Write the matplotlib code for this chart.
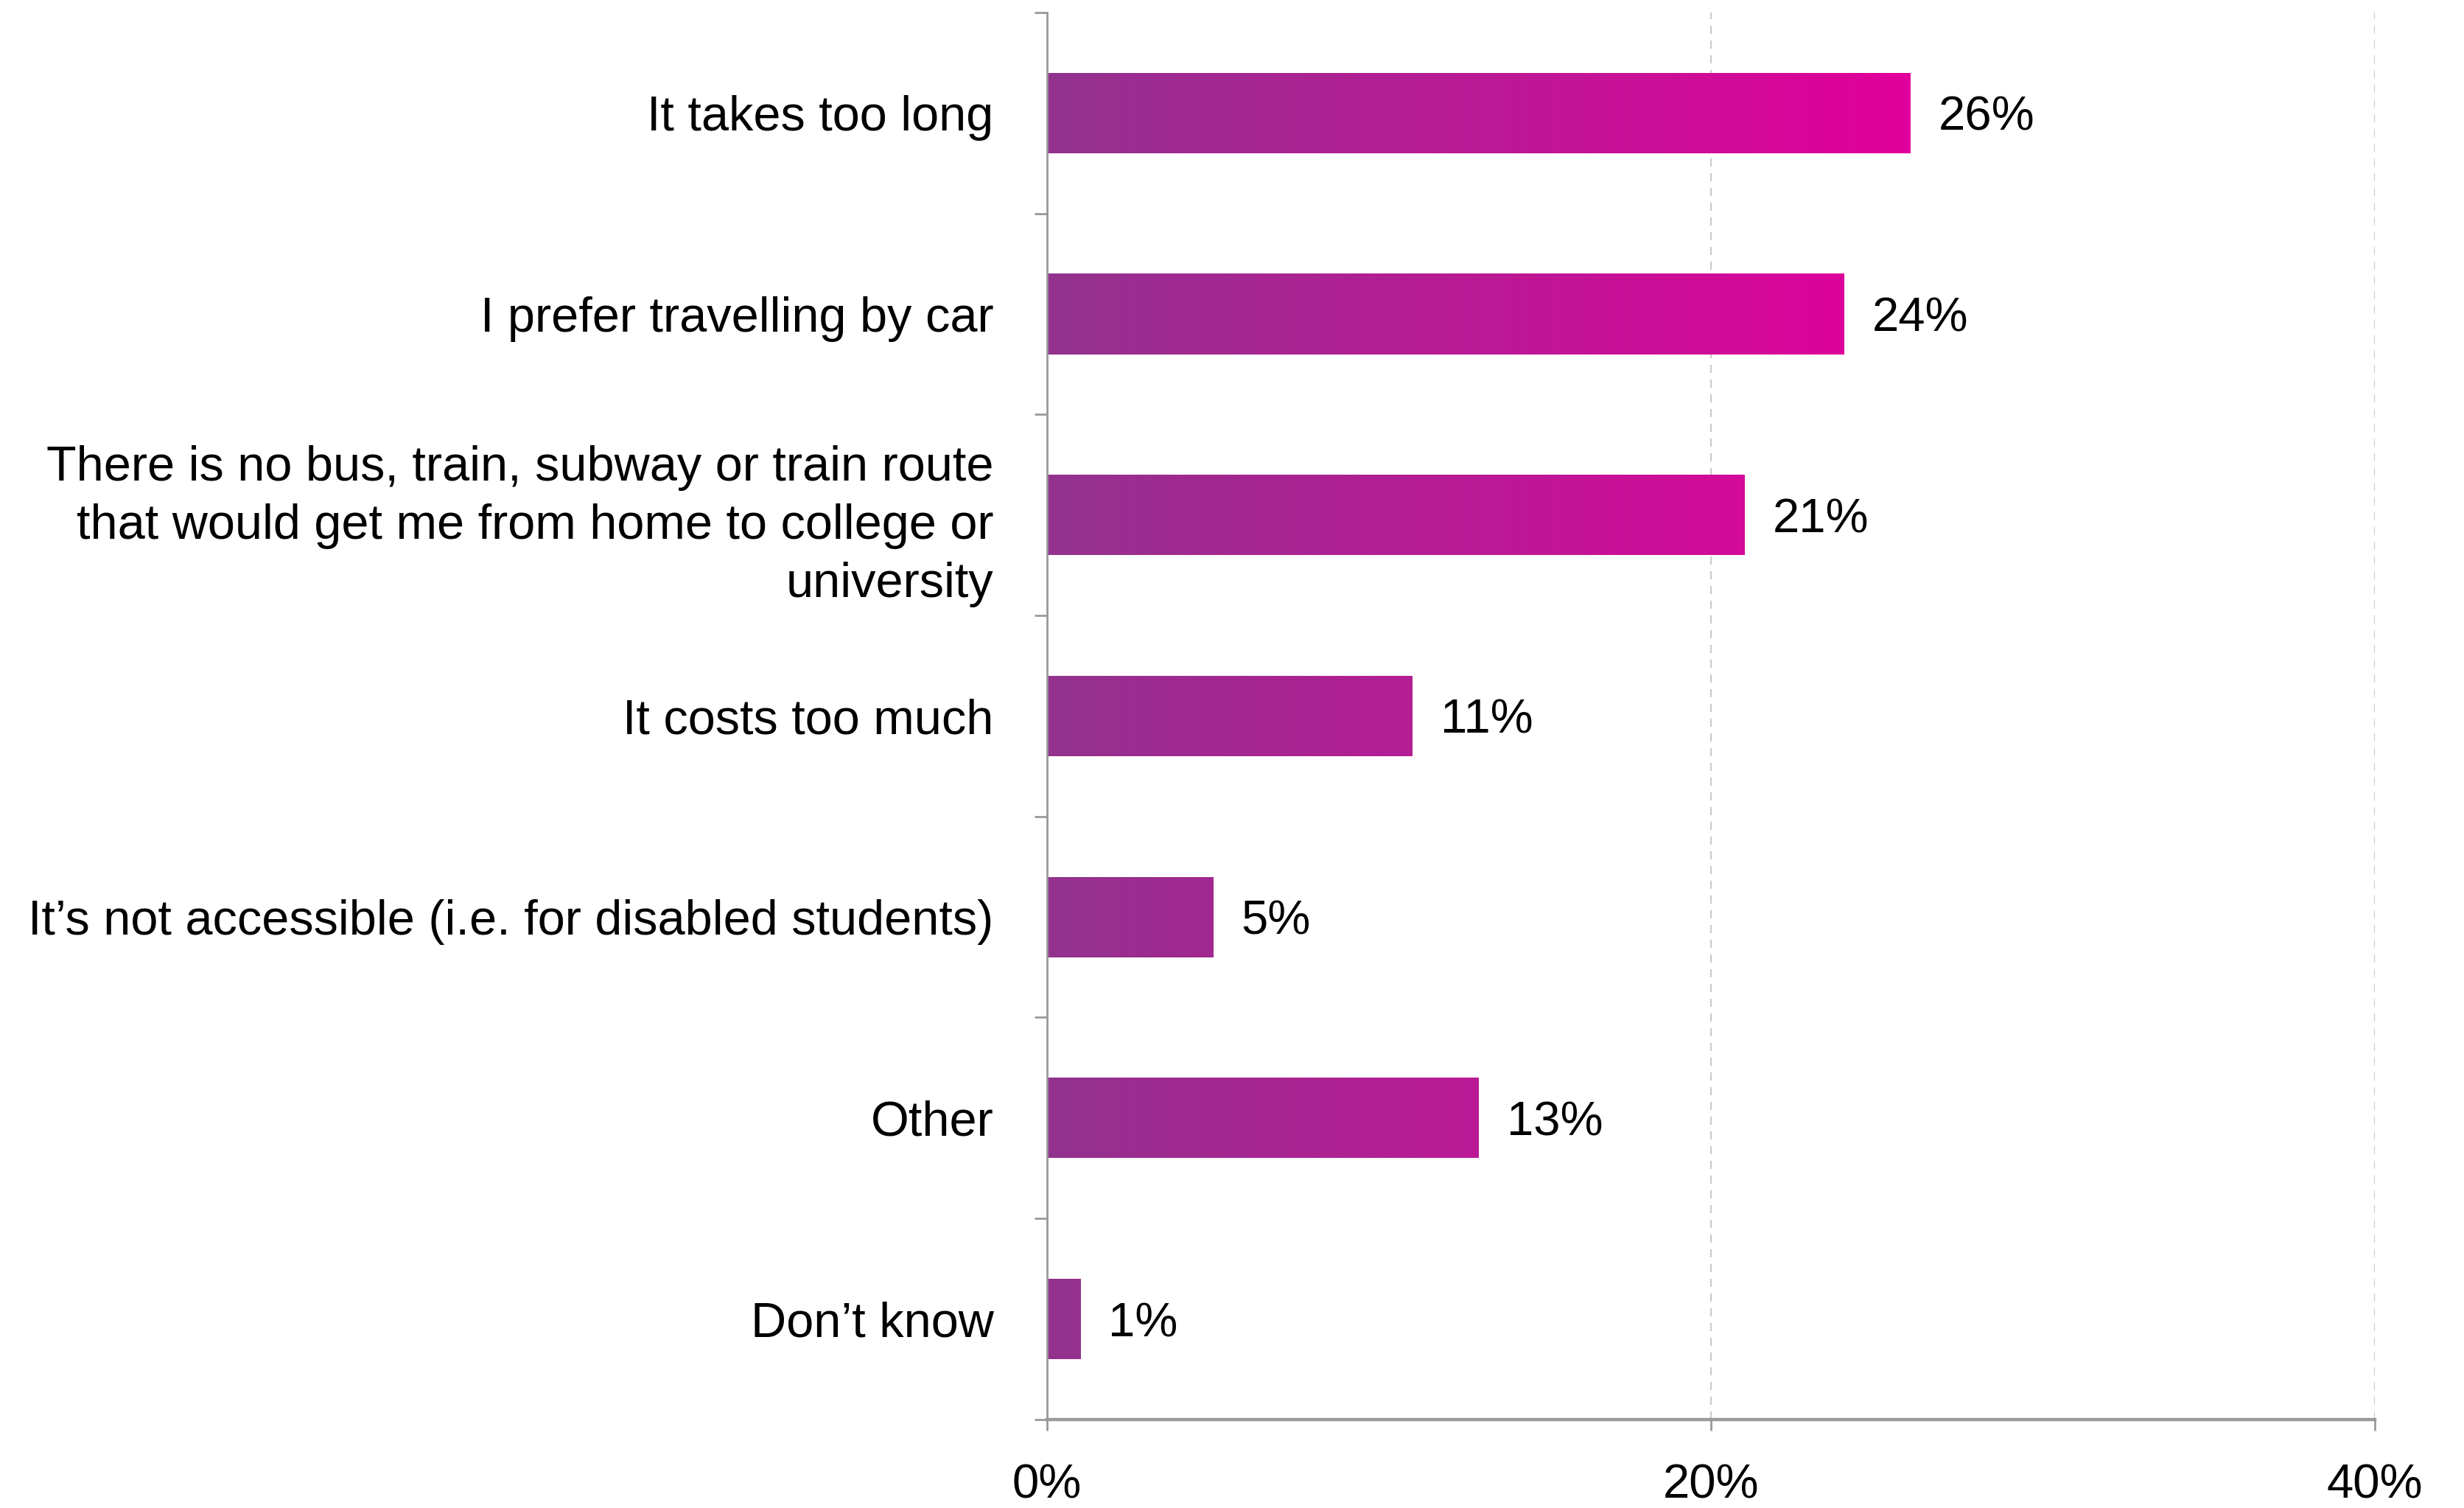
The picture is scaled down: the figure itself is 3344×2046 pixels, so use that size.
import matplotlib
matplotlib.use("Agg")
import matplotlib.pyplot as plt
import numpy as np
from matplotlib.colors import LinearSegmentedColormap
from matplotlib.ticker import FixedLocator

plt.rcParams['font.family'] = ['Liberation Sans Narrow', 'Liberation Sans', 'DejaVu Sans']

# 数据
categories = [
    "It takes too long",
    "I prefer travelling by car",
    "There is no bus, train, subway or train route\nthat would get me from home to college or\nuniversity",
    "It costs too much",
    "It\u2019s not accessible (i.e. for disabled students)",
    "Other",
    "Don\u2019t know",
]
values = [26, 24, 21, 11, 5, 13, 1]
x_ticks = [0, 20, 40]
x_tick_labels = ["0%", "20%", "40%"]

fig = plt.figure(figsize=(16.72, 10.23), dpi=200)
ax = fig.add_axes([0.4249, 0.0587, 0.5389, 0.933])

y = np.arange(len(categories))
bars = ax.barh(y, values, height=0.4, facecolor='none', edgecolor='none')

# 渐变色：紫 -> 品红，按x绝对位置
cmap = LinearSegmentedColormap.from_list("pm", ["#93328E", "#E2009C"])
grad = np.linspace(0, 1, 256).reshape(1, -1)
vmax = max(values)
for bar in bars:
    y0 = bar.get_y()
    im = ax.imshow(grad, cmap=cmap, aspect='auto', interpolation='bicubic',
                   extent=[0, vmax, y0, y0 + bar.get_height()], zorder=2)
    im.set_clip_path(bar)

# 数值标注
for yi, v in zip(y, values):
    ax.text(v + 0.85, yi, f"{v}%", ha='left', va='center_baseline', fontsize=23.5, color='black')

ax.set_xlim(0, 40)
ax.set_ylim(len(categories) - 0.5, -0.5)

ax.set_yticks(y)
ax.set_yticklabels(categories, fontsize=24, linespacing=1.35, ha='right')
ax.yaxis.set_minor_locator(FixedLocator(np.arange(-0.5, len(categories), 1.0)))
ax.tick_params(axis='y', which='major', length=0, pad=26)
ax.tick_params(axis='y', which='minor', length=6, width=1, color='#999999', direction='out')

ax.set_xticks(x_ticks)
ax.set_xticklabels(x_tick_labels, fontsize=23.5)
ax.tick_params(axis='x', which='major', length=5.5, width=1, color='#999999', pad=16)

ax.grid(True, axis='x', linestyle=(0, (5, 4)), linewidth=0.8, color='#C8CCCC', zorder=0)
ax.set_axisbelow(True)

for side in ['top', 'right']:
    ax.spines[side].set_visible(False)
ax.spines['left'].set_color('#999999')
ax.spines['left'].set_linewidth(1)
ax.spines['bottom'].set_color('#999999')
ax.spines['bottom'].set_linewidth(1.6)

fig.savefig("out.png", dpi=200)
plt.close()
